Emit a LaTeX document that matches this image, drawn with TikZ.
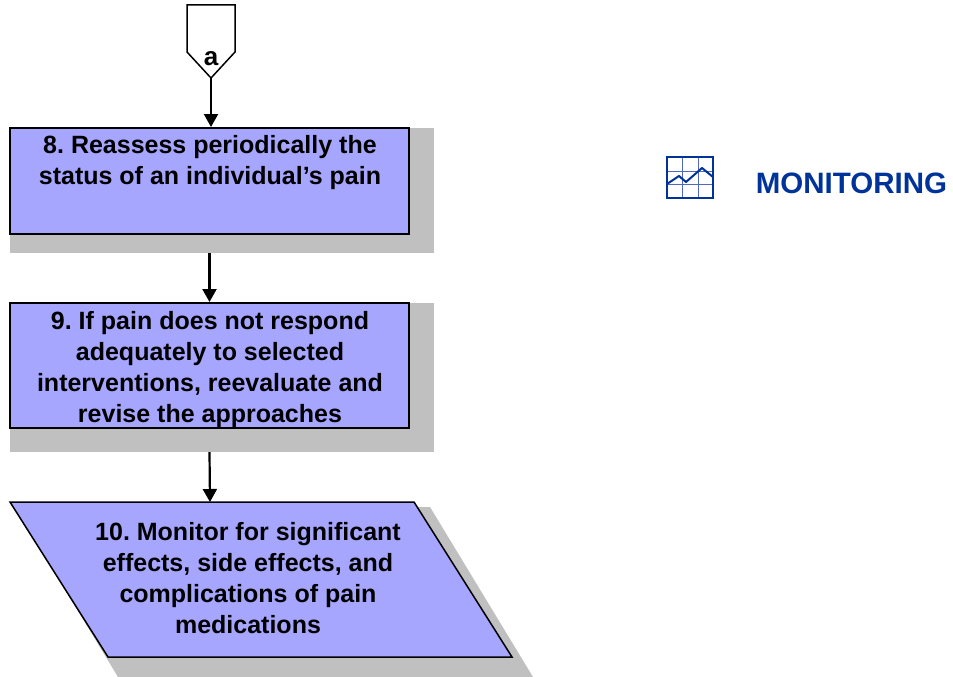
\documentclass[tikz,border=0pt]{standalone}
\usepackage{fontspec}
\setmainfont{Liberation Sans}
\usetikzlibrary{arrows.meta}
\frenchspacing
\definecolor{boxfill}{RGB}{166,166,255}
\definecolor{shadowgray}{RGB}{192,192,192}
\definecolor{monblue}{RGB}{0,51,153}
\definecolor{gridblue}{RGB}{80,105,185}
\begin{document}
\begin{tikzpicture}[x=1pt,y=-1pt,
 stepbox/.style={draw=black,line width=2pt,fill=boxfill,inner sep=0pt},
 shadowbox/.style={fill=shadowgray,draw=none,inner sep=0pt},
 arr/.style={line width=2.2pt,-{Triangle[length=13pt,width=14pt]}},
 boxtext/.style={font=\frenchspacing\fontsize{25pt}{31pt}\selectfont\bfseries,align=center,anchor=north,inner sep=0pt}]
\useasboundingbox (0,0) rectangle (953,677);
\fill[white] (0,0) rectangle (953,677);

% off-page connector a
\draw[line width=1.5pt,fill=white] (187,5) -- (235,5) -- (235,52) -- (211,78) -- (187,52) -- cycle;
\coordinate (atip) at (211,78);
\node[font=\fontsize{26pt}{30pt}\selectfont\bfseries,anchor=base,inner sep=0pt] (alab) at (211,66) {a};

% box 8
\node[shadowbox,minimum width=424pt,minimum height=125pt] (sh8) at (222,190.5) {};
\node[stepbox,minimum width=399pt,minimum height=106pt] (b8) at (209.5,181) {};
\node[boxtext] (t8) at (210,135.5) {8. Reassess periodically the\\status of an individual’s pain};

% box 9
\node[shadowbox,minimum width=424pt,minimum height=149pt] (sh9) at (222,377.5) {};
\node[stepbox,minimum width=399pt,minimum height=125pt] (b9) at (209.5,365.5) {};
\node[boxtext] (t9) at (210,311) {9. If pain does not respond\\adequately to selected\\interventions, reevaluate and\\revise the approaches};

% box 10 (parallelogram)
\fill[shadowgray] (15,507) -- (430,507) -- (533,677) -- (118,677) -- cycle;
\draw[line width=1.5pt,fill=boxfill,line join=miter] (10,502) -- (414,502) -- (512,657) -- (108,657) -- cycle;
\coordinate (p10top) at (210,502);
\node[boxtext] (t10) at (248,522) {10. Monitor for significant\\effects, side effects, and\\complications of pain\\medications};

% connectors
\draw[arr] (atip) -- (atip |- b8.north);
\draw[arr] (b8.south |- sh8.south) -- (b9.north);
\draw[arr] (b9.south |- sh9.south) -- (p10top);

% monitoring icon
\draw[gridblue,line width=1pt] (682,157) -- (682,198) (698,157) -- (698,198) (667,171) -- (713,171) (667,184) -- (713,184);
\draw[monblue,line width=1.5pt] (667,157) rectangle (713,198);
\draw[monblue,line width=2pt,line join=round] (667,184) -- (679,176) -- (686,182) -- (702,168) -- (713,177);

\node[font=\fontsize{29.5pt}{34pt}\selectfont\bfseries,text=monblue,anchor=base,inner sep=0pt] (mon) at (851.5,193.5) {MONITORING};
\end{tikzpicture}
\end{document}
